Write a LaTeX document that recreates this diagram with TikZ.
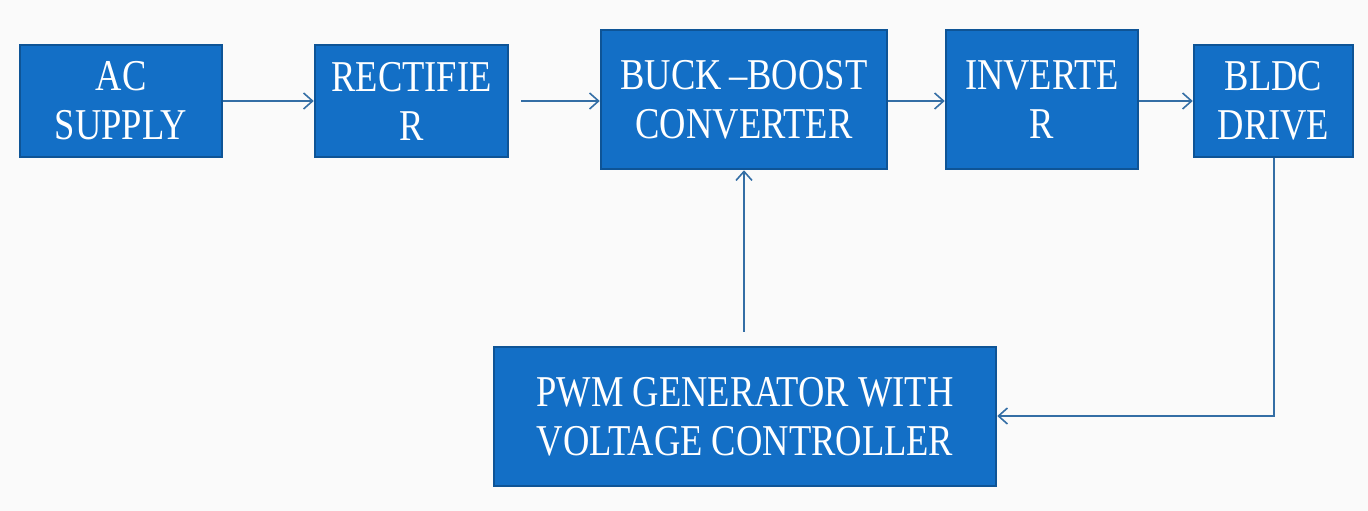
\documentclass[tikz,border=0pt]{standalone}
\usepackage{fontspec}
\setmainfont{Liberation Serif}[FakeStretch=0.83]
\usetikzlibrary{arrows.meta}
\definecolor{boxfill}{RGB}{19,111,198}
\definecolor{boxedge}{RGB}{14,84,150}
\definecolor{arr}{RGB}{52,110,165}
\definecolor{bg}{RGB}{250,250,250}
\tikzset{
  blk/.style={draw=boxedge, line width=2.5pt, fill=boxfill, text=white, align=center,
    inner sep=0pt, font=\fontsize{44}{49}\selectfont},
  conn/.style={draw=arr, line width=1.6pt, -{Straight Barb[length=9pt,width=16pt,line width=1.6pt]}}
}
\begin{document}
\begin{tikzpicture}[x=1pt,y=-1pt]
\fill[bg] (0,0) rectangle (1368,511);
\useasboundingbox (0,0) rectangle (1368,511);
\node[blk, minimum width=202pt, minimum height=112pt] (ac) at (121,101) {AC\\SUPPLY};
\node[blk, minimum width=193pt, minimum height=112pt] (rect) at (411.5,101) {RECTIFIE\\R};
\node[blk, minimum width=286pt, minimum height=139pt] (bb) at (744,99.5) {BUCK\,--BOOST\\CONVERTER};
\node[blk, minimum width=192pt, minimum height=139pt] (inv) at (1042,99.5) {INVERTE\\R};
\node[blk, minimum width=159pt, minimum height=112pt] (bldc) at (1273.5,101) {BLDC\\DRIVE};
\node[blk, minimum width=502pt, minimum height=139pt] (pwm) at (745,416.5) {PWM GENERATOR WITH\\VOLTAGE CONTROLLER};
\coordinate (corner) at (1274,416);
\draw[conn] (ac.east |- 0,101) -- (rect.west |- 0,101);
\draw[conn] ([xshift=12pt]rect.east |- 0,101) -- (bb.west |- 0,101);
\draw[conn] (bb.east |- 0,101) -- (inv.west |- 0,101);
\draw[conn] (inv.east |- 0,101) -- (bldc.west |- 0,101);
\draw[conn] ([yshift=14pt]pwm.north -| 744,0) -- (bb.south -| 744,0);
\draw[conn] (bldc.south -| corner) -- (corner) -- (pwm.east |- corner);
\end{tikzpicture}
\end{document}
